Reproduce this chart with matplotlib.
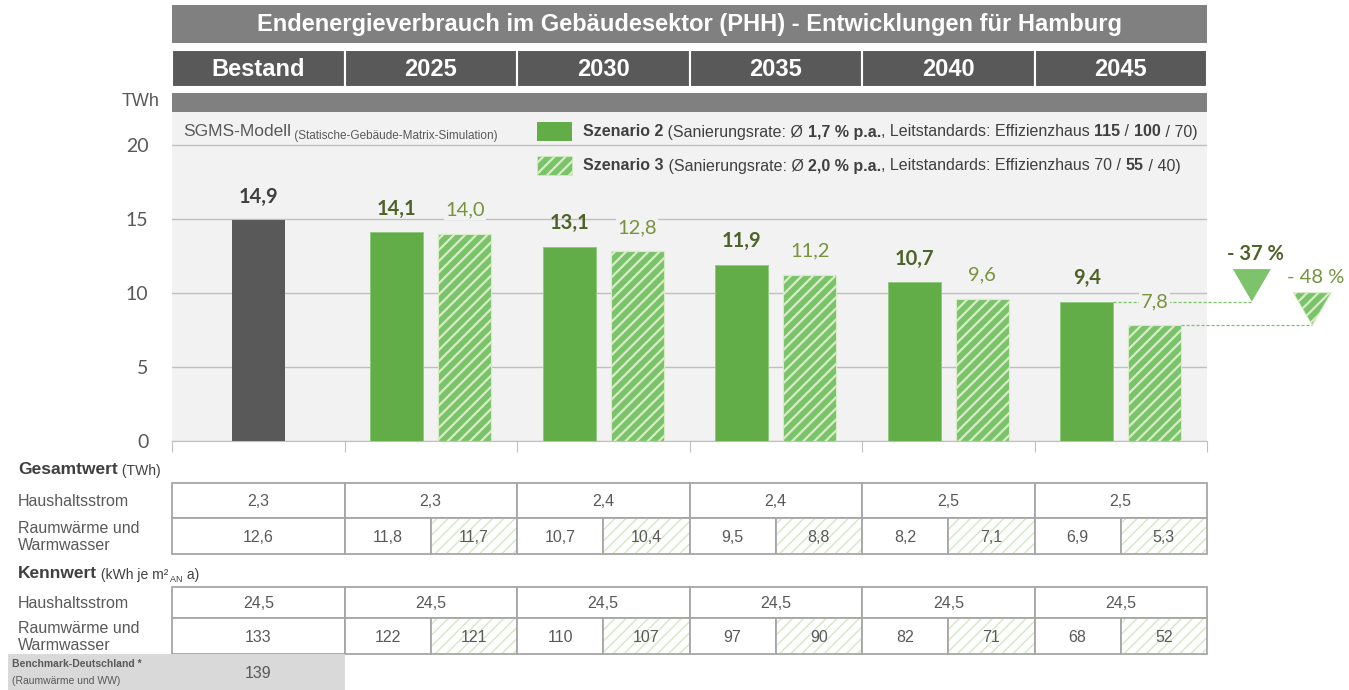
import numpy as np
import matplotlib
matplotlib.use('Agg')
import matplotlib.pyplot as plt
from matplotlib.patches import Rectangle, Polygon
from matplotlib import font_manager as fm

# ---- data ----
columns = ['Bestand', '2025', '2030', '2035', '2040', '2045']
bestand_value = 14.9
szenario2 = [14.1, 13.1, 11.9, 10.7, 9.4]
szenario3 = [14.0, 12.8, 11.2, 9.6, 7.8]
reduction_labels = ['- 37 %', '- 48 %']
yticks = [0, 5, 10, 15, 20]

ges_strom = [2.3, 2.3, 2.4, 2.4, 2.5, 2.5]
ges_waerme_bestand = 12.6
ges_waerme_s2 = [11.8, 10.7, 9.5, 8.2, 6.9]
ges_waerme_s3 = [11.7, 10.4, 8.8, 7.1, 5.3]

kenn_strom = [24.5, 24.5, 24.5, 24.5, 24.5, 24.5]
kenn_waerme_bestand = 133
kenn_waerme_s2 = [122, 110, 97, 82, 68]
kenn_waerme_s3 = [121, 107, 90, 71, 52]
benchmark = 139

# ---- fonts / colours ----
names = {f.name for f in fm.fontManager.ttflist}
NARROW = ['Liberation Sans Narrow' if 'Liberation Sans Narrow' in names else 'Liberation Sans', 'DejaVu Sans']
ARIAL = ['Liberation Sans', 'DejaVu Sans']
CALI = ['Lato', 'DejaVu Sans']

GREEN = '#62ad47'
GREEN_H = '#7ac36a'
PALE = '#d8ecc6'
DARKGREEN = '#4f6228'
OLIVE = '#77933c'
GREY = '#595959'
LINE = '#bfbfbf'
BORDER = '#a6a6a6'
HATCH = '///'


def de(v):
    if isinstance(v, int):
        return str(v)
    return ('%.1f' % v).replace('.', ',')


def hatch_lw(p, w):
    if hasattr(p, 'set_hatch_linewidth'):
        p.set_hatch_linewidth(w)


def rich(ax, x, y, parts, color, family):
    t = None
    for s, size, weight, dy in parts:
        if t is None:
            t = ax.text(x, y, s, fontsize=size, fontweight=weight, color=color,
                        family=family, va='center', ha='left')
        else:
            t = ax.annotate(s, xy=(1, 0), xycoords=t, xytext=(0, dy),
                            textcoords='offset points', fontsize=size,
                            fontweight=weight, color=color, family=family,
                            va='bottom', ha='left')
    return t


plt.rcParams['hatch.linewidth'] = 1.6

W, H = 1349, 690
L, R = 172, 1207
Y0, YT = 440.5, 112

fig = plt.figure(figsize=(W / 100, H / 100), dpi=100)

# ---- main chart ----
ax = fig.add_axes([L / W, 1 - Y0 / H, (R - L) / W, (Y0 - YT) / H])
ax.set_xlim(-0.5, 5.5)
ax.set_ylim(0, 22.23)
ax.set_facecolor('#f2f2f2')
for s in ['top', 'left', 'right']:
    ax.spines[s].set_visible(False)
ax.spines['bottom'].set_color(LINE)
ax.set_yticks(yticks)
ax.yaxis.grid(True, color=LINE, lw=1)
ax.set_axisbelow(True)
ax.tick_params(axis='y', length=0, pad=17, labelsize=14, labelcolor=GREY)
for lab in ax.get_yticklabels():
    lab.set_family(CALI)
ax.set_xticks(np.arange(-0.5, 6, 1))
ax.set_xticklabels([])
ax.tick_params(axis='x', length=8, color=LINE, direction='out')

BW = 0.307
OFF = 0.197
x2 = np.arange(1, 6) - OFF
x3 = np.arange(1, 6) + OFF

ax.bar(0, bestand_value, BW, color=GREY, zorder=3)
ax.bar(x2, szenario2, BW, color=GREEN, edgecolor='#8cc97a', lw=0.6, zorder=3)
bars3 = ax.bar(x3, szenario3, BW, color=GREEN_H, edgecolor=PALE, hatch=HATCH, lw=0.8, zorder=3)
for b in bars3:
    hatch_lw(b, 1.6)

LOFF = 1.6
ax.text(0, bestand_value + LOFF, de(bestand_value), ha='center', va='center',
        fontsize=14.5, fontweight='bold', color='#404040', family=CALI)
for x, v in zip(x2, szenario2):
    ax.text(x, v + LOFF, de(v), ha='center', va='center', fontsize=14.5,
            fontweight='bold', color=DARKGREEN, family=CALI, zorder=6)
for x, v in zip(x3, szenario3):
    ax.text(x, v + LOFF, de(v), ha='center', va='center', fontsize=14.5,
            color=OLIVE, family=CALI, zorder=6,
            bbox=dict(facecolor='#f2f2f2', edgecolor='none', pad=1))

# reduction triangles
tri_x = [5.76, 6.11]
tri_hw = 0.11
tri_h = 2.2
ends = [szenario2[-1], szenario3[-1]]
starts = [x2[-1] + BW / 2, x3[-1] + BW / 2]
for i in range(2):
    ax.plot([starts[i], tri_x[i]], [ends[i], ends[i]], ls=(0, (2.5, 1.5)),
            color='#7dc36c', lw=0.9, zorder=4, clip_on=False)
    pts = [(tri_x[i] - tri_hw, ends[i] + tri_h), (tri_x[i] + tri_hw, ends[i] + tri_h),
           (tri_x[i], ends[i])]
    if i == 0:
        tri = Polygon(pts, closed=True, facecolor='#7dc36c', edgecolor='none',
                      clip_on=False, zorder=5)
    else:
        tri = Polygon(pts, closed=True, facecolor=GREEN_H, edgecolor=PALE,
                      hatch=HATCH, lw=0.6, clip_on=False, zorder=5)
        hatch_lw(tri, 1.6)
    ax.add_patch(tri)
    ax.text(tri_x[i] + 0.02, ends[i] + tri_h + 1.05, reduction_labels[i],
            ha='center', va='center', fontsize=14.5, family=CALI,
            fontweight='bold' if i == 0 else 'normal',
            color=DARKGREEN if i == 0 else OLIVE, clip_on=False)

# ---- overlay: headers, legend, tables ----
ov = fig.add_axes([0, 0, 1, 1])
ov.set_xlim(0, W)
ov.set_ylim(H, 0)
ov.axis('off')

edges = np.linspace(L, R, len(columns) + 1)
ov.add_patch(Rectangle((L, 5), R - L, 38, fc='#808080', ec='none'))
ov.text((L + R) / 2, 24.5, 'Endenergieverbrauch im Gebäudesektor (PHH) - Entwicklungen für Hamburg',
        ha='center', va='center', color='white', fontsize=17, fontweight='bold', family=ARIAL)
for i, c in enumerate(columns):
    ov.add_patch(Rectangle((edges[i], 50), edges[i + 1] - edges[i], 37,
                           fc='#595959', ec='white', lw=1.5))
    ov.text((edges[i] + edges[i + 1]) / 2, 69, c, ha='center', va='center',
            color='white', fontsize=17, fontweight='bold', family=ARIAL)
ov.add_patch(Rectangle((L, 93), R - L, 19, fc='#808080', ec='none'))
ov.text(160, 102, 'TWh', ha='right', va='center', color=GREY, fontsize=13, family=NARROW)

# model note + legend
rich(ov, 183, 132, [('SGMS-Modell', 12.5, 'normal', 0),
                    (' (Statische-Gebäude-Matrix-Simulation)', 8.5, 'normal', -2)],
     GREY, NARROW)
ov.add_patch(Rectangle((537, 122), 35, 19, fc=GREEN, ec='none'))
lg = Rectangle((537, 156), 35, 19, fc=GREEN_H, ec=PALE, hatch=HATCH, lw=0.5)
hatch_lw(lg, 1.6)
ov.add_patch(lg)
rich(ov, 583, 132, [('Szenario 2', 11.5, 'bold', 0),
                    (' (Sanierungsrate: Ø ', 11.5, 'normal', 0),
                    ('1,7 % p.a.', 11.5, 'bold', 0),
                    (', Leitstandards: Effizienzhaus ', 11.5, 'normal', 0),
                    ('115', 11.5, 'bold', 0), (' / ', 11.5, 'normal', 0),
                    ('100', 11.5, 'bold', 0), (' / 70)', 11.5, 'normal', 0)],
     '#404040', NARROW)
rich(ov, 583, 166, [('Szenario 3', 11.5, 'bold', 0),
                    (' (Sanierungsrate: Ø ', 11.5, 'normal', 0),
                    ('2,0 % p.a.', 11.5, 'bold', 0),
                    (', Leitstandards: Effizienzhaus 70 / ', 11.5, 'normal', 0),
                    ('55', 11.5, 'bold', 0), (' / 40)', 11.5, 'normal', 0)],
     '#404040', NARROW)

TFS = 11.5


def cell(x0, x1, y0, y1, txt, hatched=False):
    p = Rectangle((x0, y0), x1 - x0, y1 - y0, fc='white', ec=BORDER, lw=1.3)
    ov.add_patch(p)
    if hatched:
        h = Rectangle((x0 + 1, y0 + 1), x1 - x0 - 2, y1 - y0 - 2, fc='white',
                      ec='#d3e8c2', hatch=HATCH, lw=0)
        hatch_lw(h, 1.0)
        ov.add_patch(h)
    ov.text((x0 + x1) / 2, (y0 + y1) / 2 + 1, txt, ha='center', va='center',
            color=GREY, fontsize=TFS, family=NARROW)


def table(y_label, rows, strom, w_bestand, w_s2, w_s3, section):
    rich(ov, 18, y_label, section, '#404040', NARROW)
    (a0, a1), (b0, b1) = rows
    for i in range(len(columns)):
        cell(edges[i], edges[i + 1], a0, a1, de(strom[i]))
    cell(edges[0], edges[1], b0, b1, de(w_bestand))
    for i in range(1, len(columns)):
        mid = (edges[i] + edges[i + 1]) / 2
        cell(edges[i], mid, b0, b1, de(w_s2[i - 1]))
        cell(mid, edges[i + 1], b0, b1, de(w_s3[i - 1]), hatched=True)
    ov.text(18, (a0 + a1) / 2 + 1, 'Haushaltsstrom', ha='left', va='center',
            color=GREY, fontsize=TFS, family=NARROW)
    ov.text(18, (b0 + b1) / 2 + 1, 'Raumwärme und\nWarmwasser', ha='left', va='center',
            color=GREY, fontsize=TFS, family=NARROW, linespacing=1.2)


table(470, [(483, 518), (518, 554)], ges_strom, ges_waerme_bestand,
      ges_waerme_s2, ges_waerme_s3,
      [('Gesamtwert', 12.5, 'bold', 0), (' (TWh)', 10, 'normal', 0)])
table(574, [(587, 618), (618, 654)], kenn_strom, kenn_waerme_bestand,
      kenn_waerme_s2, kenn_waerme_s3,
      [('Kennwert', 12.5, 'bold', 0), (' (kWh je m²', 10, 'normal', 0),
       (' AN', 6.5, 'normal', -2), (' a)', 10, 'normal', 2)])

# benchmark row
ov.add_patch(Rectangle((8, 654), edges[1] - 8, 36, fc='#d9d9d9', ec='none'))
ov.text(12, 664, 'Benchmark-Deutschland *', ha='left', va='center', color=GREY,
        fontsize=7.5, fontweight='bold', family=NARROW)
ov.text(12, 681, '(Raumwärme und WW)', ha='left', va='center', color=GREY,
        fontsize=7.5, family=NARROW)
ov.text((edges[0] + edges[1]) / 2, 673, de(benchmark), ha='center', va='center',
        color=GREY, fontsize=TFS, family=NARROW)

fig.savefig('out.png', dpi=100, facecolor='white')
